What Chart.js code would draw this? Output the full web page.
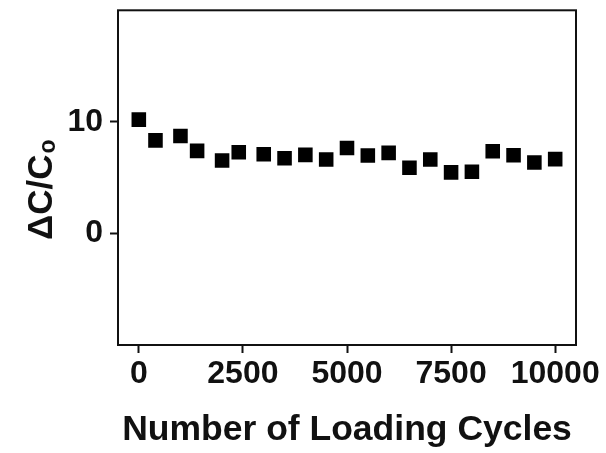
<!DOCTYPE html>
<html>
<head>
<meta charset="utf-8">
<style>
  html, body { margin: 0; padding: 0; background: #fff; }
  #wrap { width: 606px; height: 453px; }
</style>
<script src="https://cdn.jsdelivr.net/npm/chart.js@4/dist/chart.umd.min.js"></script>
</head>
<body>
<div id="wrap"><canvas id="c" width="606" height="453"></canvas></div>
<script>
// Capacitance change versus number of loading cycles
const cycles = [0, 400, 1000, 1400, 2000, 2400, 3000, 3500, 4000, 4500, 5000,
                5500, 6000, 6500, 7000, 7500, 8000, 8500, 9000, 9500, 10000];
const deltaC = [10.2, 8.34, 8.73, 7.40, 6.54, 7.28, 7.10, 6.74, 7.04, 6.63, 7.66,
                6.98, 7.22, 5.89, 6.63, 5.47, 5.53, 7.37, 7.01, 6.36, 6.66];
const xTicks = [0, 2500, 5000, 7500, 10000];
const yTicks = [0, 10];

const FONT = '"Liberation Sans", Arial, Helvetica, sans-serif';
const INK = '#111';

// Closed frame around the plotting area
const framePlugin = {
  id: 'frame',
  afterDatasetsDraw(chart) {
    const { ctx, chartArea: a } = chart;
    ctx.save();
    ctx.strokeStyle = INK;
    ctx.lineWidth = 2;
    ctx.strokeRect(a.left, a.top, a.right - a.left, a.bottom - a.top);
    ctx.restore();
  }
};

// Vertical axis title with subscript
const yTitlePlugin = {
  id: 'yTitle',
  afterDraw(chart) {
    const { ctx } = chart;
    ctx.save();
    ctx.translate(52, 240);
    ctx.rotate(-Math.PI / 2);
    ctx.fillStyle = INK;
    ctx.textAlign = 'left';
    ctx.textBaseline = 'alphabetic';
    ctx.font = 'bold 35px ' + FONT;
    const main = '\u0394C/C';
    ctx.fillText(main, 0, 0);
    const w = ctx.measureText(main).width;
    ctx.font = 'bold 23px ' + FONT;
    ctx.fillText('o', w + 1, 3);
    ctx.restore();
  }
};

const plain = v => String(v);

new Chart(document.getElementById('c'), {
  type: 'scatter',
  data: {
    datasets: [{
      data: cycles.map((x, i) => ({ x, y: deltaC[i] })),
      pointStyle: 'rect',
      pointRadius: 10.3,
      pointHoverRadius: 10.3,
      backgroundColor: '#000',
      borderWidth: 0
    }]
  },
  options: {
    responsive: false,
    animation: false,
    devicePixelRatio: 1,
    layout: { padding: { top: 7, right: 30, left: 0, bottom: 0 } },
    plugins: { legend: { display: false }, tooltip: { enabled: false } },
    scales: {
      x: {
        type: 'linear',
        min: -500,
        max: 10500,
        afterBuildTicks(scale) { scale.ticks = xTicks.map(v => ({ value: v })); },
        afterFit(scale) { scale.height = 108; scale.paddingLeft = 0; scale.paddingRight = 0; },
        border: { display: false },
        grid: { drawOnChartArea: false, drawTicks: true, tickLength: 8, tickWidth: 2, tickColor: INK, color: INK },
        ticks: { color: INK, padding: 2, maxRotation: 0, callback: plain, font: { family: FONT, size: 32, weight: 'bold' } },
        title: {
          display: true,
          text: 'Number of Loading Cycles',
          color: INK,
          padding: { top: 0, bottom: 1 },
          font: { family: FONT, size: 35.5, weight: 'bold' }
        }
      },
      y: {
        type: 'linear',
        min: -10,
        max: 20,
        afterBuildTicks(scale) { scale.ticks = yTicks.map(v => ({ value: v })); },
        afterFit(scale) { scale.width = 118; scale.paddingTop = 0; scale.paddingBottom = 0; },
        border: { display: false },
        grid: { drawOnChartArea: false, drawTicks: true, tickLength: 8, tickWidth: 2, tickColor: INK, color: INK },
        ticks: { color: INK, padding: 7, callback: plain, font: { family: FONT, size: 32, weight: 'bold' } }
      }
    }
  },
  plugins: [framePlugin, yTitlePlugin]
});
</script>
</body>
</html>
